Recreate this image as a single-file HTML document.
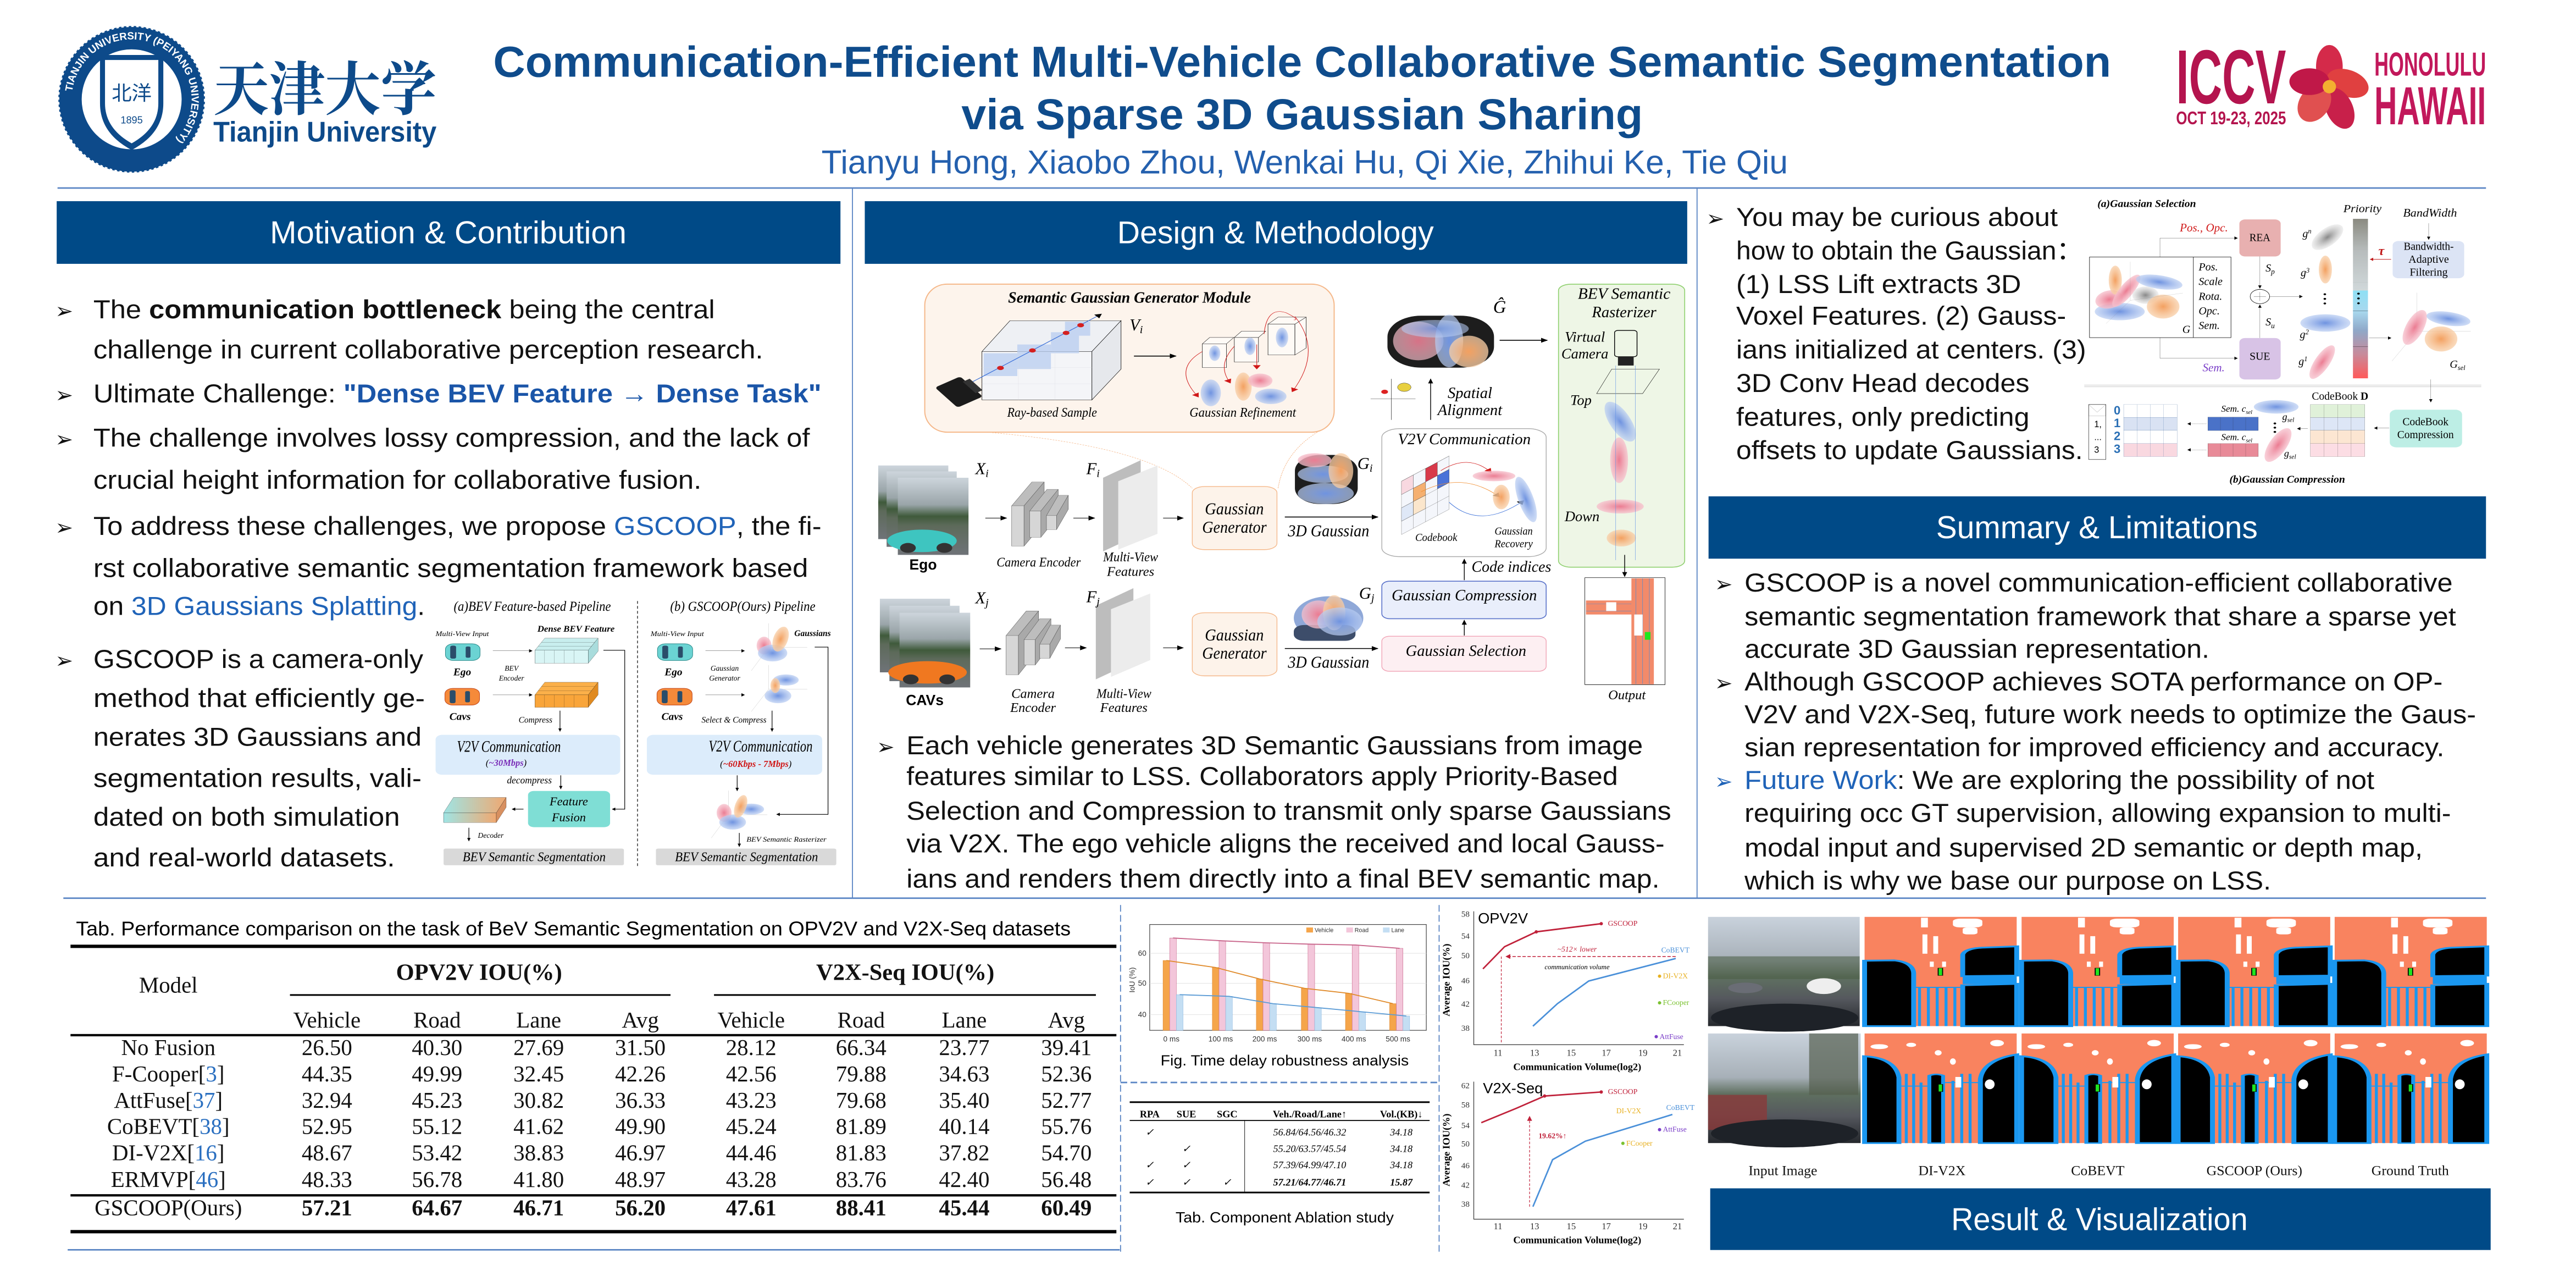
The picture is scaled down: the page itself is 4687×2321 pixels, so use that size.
<!DOCTYPE html>
<html><head><meta charset="utf-8">
<style>
html,body{margin:0;padding:0;background:#fff;}
svg{display:block;}
.s{font-family:"Liberation Sans",Arial,sans-serif;}
.r{font-family:"Liberation Serif","Times New Roman",serif;}
.i{font-family:"Liberation Serif",serif;font-style:italic;}
.bi{font-family:"Liberation Serif",serif;font-style:italic;font-weight:bold;}
.b{font-weight:bold;}
.bul{font-family:"Liberation Sans",Arial,sans-serif;font-size:15.5px;fill:#111;}
.ar{font-family:"DejaVu Sans",sans-serif;font-size:13px;fill:#111;}
.nsc{vector-effect:non-scaling-stroke;}
</style></head>
<body>
<svg xmlns="http://www.w3.org/2000/svg" width="4687" height="2321" viewBox="0 0 1546 765.6">
<defs>
 <linearGradient id="sky" x1="0" y1="0" x2="0" y2="1">
  <stop offset="0" stop-color="#cdd5dc"/><stop offset="0.35" stop-color="#9aa5a9"/><stop offset="0.5" stop-color="#3f5a3b"/><stop offset="0.62" stop-color="#5d6a5a"/><stop offset="1" stop-color="#6f7378"/>
 </linearGradient>
 <linearGradient id="sky2" x1="0" y1="0" x2="0" y2="1">
  <stop offset="0" stop-color="#c9d2dc"/><stop offset="0.4" stop-color="#a7b0b8"/><stop offset="0.55" stop-color="#5f7060"/><stop offset="0.75" stop-color="#55585e"/><stop offset="1" stop-color="#25282d"/>
 </linearGradient>
 <linearGradient id="prio" x1="0" y1="0" x2="0" y2="1">
  <stop offset="0" stop-color="#8a8a80"/><stop offset="0.2" stop-color="#b7bcbc"/><stop offset="0.45" stop-color="#d0d8da"/><stop offset="0.45" stop-color="#8fe0f5"/><stop offset="0.58" stop-color="#a8d8ee"/><stop offset="0.7" stop-color="#8fa8c8"/><stop offset="0.85" stop-color="#c88a9a"/><stop offset="1" stop-color="#ff5a5a"/>
 </linearGradient>
 <linearGradient id="fuse" x1="0" y1="0" x2="1" y2="0">
  <stop offset="0" stop-color="#9fe4e4"/><stop offset="1" stop-color="#f0a870"/>
 </linearGradient>
 <radialGradient id="gB"><stop offset="0" stop-color="#6f93e0"/><stop offset="1" stop-color="#b9cdf2" stop-opacity="0.7"/></radialGradient>
 <radialGradient id="gO"><stop offset="0" stop-color="#f3a060"/><stop offset="1" stop-color="#f8cfa8" stop-opacity="0.75"/></radialGradient>
 <radialGradient id="gP"><stop offset="0" stop-color="#eb7c92"/><stop offset="1" stop-color="#f6c0cc" stop-opacity="0.75"/></radialGradient>
 <radialGradient id="gG"><stop offset="0" stop-color="#888"/><stop offset="1" stop-color="#e6e6e6" stop-opacity="0.6"/></radialGradient>
 <marker id="ahr" markerWidth="3" markerHeight="3" refX="2.5" refY="1.5" orient="auto" markerUnits="userSpaceOnUse"><path d="M0,0 L3,1.5 L0,3 z" fill="#c0213a"/></marker>
 <marker id="a4h" markerWidth="12" markerHeight="14" refX="11" refY="7" orient="auto" markerUnits="userSpaceOnUse"><path d="M0,0 L12,7 L0,14 z" fill="#000"/></marker>
 <marker id="a4v" markerWidth="14" markerHeight="9" refX="13" refY="4.5" orient="auto" markerUnits="userSpaceOnUse"><path d="M0,0 L14,4.5 L0,9 z" fill="#000"/></marker>
 <marker id="a4r" markerWidth="12" markerHeight="14" refX="11" refY="7" orient="auto" markerUnits="userSpaceOnUse"><path d="M0,0 L12,7 L0,14 z" fill="#d01818"/></marker>
 <marker id="a8h" markerWidth="13" markerHeight="18" refX="12" refY="9" orient="auto" markerUnits="userSpaceOnUse"><path d="M0,0 L13,9 L0,18 z" fill="#000"/></marker>
 <marker id="a8v" markerWidth="18" markerHeight="13" refX="17" refY="6.5" orient="auto" markerUnits="userSpaceOnUse"><path d="M0,0 L18,6.5 L0,13 z" fill="#000"/></marker>
 <marker id="a7h" markerWidth="13" markerHeight="17" refX="12" refY="8.5" orient="auto" markerUnits="userSpaceOnUse"><path d="M0,0 L13,8.5 L0,17 z" fill="#000"/></marker>
 <marker id="a7v" markerWidth="17" markerHeight="13" refX="16" refY="6.5" orient="auto" markerUnits="userSpaceOnUse"><path d="M0,0 L17,6.5 L0,13 z" fill="#000"/></marker>
 <marker id="a7r" markerWidth="13" markerHeight="17" refX="12" refY="8.5" orient="auto" markerUnits="userSpaceOnUse"><path d="M0,0 L13,8.5 L0,17 z" fill="#c01818"/></marker>
 <path id="ring" d="M79,59.6 m-36,0 a36,36 0 1,1 72,0 a36,36 0 1,1 -72,0"/>
 <g id="seg1">
  <rect x="0" y="0" width="310" height="623" fill="#f9835f"/>
  <path d="M0,250 L60,248 Q98,258 100,320 L100,623 L0,623 Z" fill="#000" stroke="#1a97f0" stroke-width="10"/>
  <path d="M200,215 Q205,178 245,175 L310,168 L310,335 L200,338 Z" fill="#000" stroke="#1a97f0" stroke-width="10"/>
  <path d="M200,390 L310,382 L310,623 L200,623 Z" fill="#000" stroke="#1a97f0" stroke-width="10"/>
  <rect x="200" y="338" width="110" height="45" fill="#1a97f0"/>
  <g stroke="#1a97f0" stroke-width="6"><line x1="112" y1="400" x2="112" y2="623"/><line x1="130" y1="400" x2="130" y2="623"/><line x1="148" y1="400" x2="148" y2="623"/><line x1="166" y1="400" x2="166" y2="623"/><line x1="184" y1="400" x2="184" y2="623"/><line x1="100" y1="402" x2="200" y2="402"/></g>
  <g fill="#fff"><rect x="115" y="5" width="14" height="55"/><rect x="180" y="10" width="60" height="50" rx="15"/><rect x="200" y="60" width="30" height="40" rx="10"/><rect x="118" y="100" width="10" height="110"/><rect x="140" y="110" width="10" height="100"/><rect x="133" y="255" width="8" height="30"/><rect x="158" y="255" width="8" height="30"/></g>
  <rect x="150" y="292" width="9" height="42" fill="#1ee61e" stroke="#000" stroke-width="2"/>
 </g>
 <g id="seg2">
  <rect x="0" y="0" width="310" height="625" fill="#f9835f"/>
  <path d="M0,130 Q62,140 70,250 L70,625 L0,625 Z" fill="#000" stroke="#1a97f0" stroke-width="10"/>
  <path d="M310,120 Q242,150 236,260 L236,625 L310,625 Z" fill="#000" stroke="#1a97f0" stroke-width="10"/>
  <path d="M132,240 Q146,226 160,240 L160,625 L132,625 Z" fill="#000" stroke="#1a97f0" stroke-width="8"/>
  <g stroke="#1a97f0" stroke-width="6"><line x1="85" y1="230" x2="85" y2="625"/><line x1="100" y1="230" x2="100" y2="625"/><line x1="115" y1="280" x2="115" y2="625"/><line x1="180" y1="270" x2="180" y2="625"/><line x1="198" y1="230" x2="198" y2="625"/><line x1="215" y1="230" x2="215" y2="625"/><line x1="70" y1="300" x2="132" y2="300"/><line x1="160" y1="280" x2="236" y2="280"/></g>
  <g fill="#fff"><ellipse cx="30" cy="75" rx="18" ry="14"/><ellipse cx="95" cy="65" rx="10" ry="12"/><ellipse cx="150" cy="110" rx="7" ry="15"/><ellipse cx="270" cy="55" rx="14" ry="18"/><ellipse cx="180" cy="160" rx="6" ry="18"/><rect x="185" y="248" width="12" height="60"/><ellipse cx="255" cy="290" rx="10" ry="28"/></g>
  <rect x="150" y="290" width="9" height="42" fill="#1ee61e" stroke="#000" stroke-width="2"/>
 </g>
</defs>

<!-- ============ HEADER ============ -->
<circle cx="79" cy="59.6" r="44" fill="#0d4a8a"/>
<circle cx="79" cy="59.6" r="44" fill="none" stroke="#fff" stroke-width="1.2" stroke-dasharray="1.5 1.5"/>
<circle cx="79" cy="59.6" r="30" fill="#fff"/>
<path d="M60,33 L98,33 L98,62 Q98,80 79,90 Q60,80 60,62 Z" fill="#0d4a8a"/>
<path d="M63,36 L95,36 L95,62 Q95,77 79,86 Q63,77 63,62 Z" fill="#fff"/>
<text class="r" x="79" y="60" font-size="12" fill="#0d4a8a" text-anchor="middle">北洋</text>
<text class="s" x="79" y="74" font-size="6" fill="#0d4a8a" text-anchor="middle">1895</text>
<text class="s b" font-size="6.2" fill="#fff"><textPath href="#ring" startOffset="2%">TIANJIN UNIVERSITY (PEIYANG UNIVERSITY)</textPath></text>
<text x="128" y="66" font-family="'Liberation Serif','Noto Serif CJK SC',serif" font-weight="bold" font-size="35" fill="#0d4a8a" textLength="134" lengthAdjust="spacingAndGlyphs">天津大学</text>
<text class="s b" x="128" y="85" font-size="17" fill="#0d4a8a" textLength="134" lengthAdjust="spacingAndGlyphs">Tianjin University</text>

<text class="s b" x="781.5" y="46" font-size="26" fill="#0f4c8c" text-anchor="middle" textLength="971" lengthAdjust="spacingAndGlyphs">Communication-Efficient Multi-Vehicle Collaborative Semantic Segmentation</text>
<text class="s b" x="781.5" y="77.5" font-size="26" fill="#0f4c8c" text-anchor="middle" textLength="409" lengthAdjust="spacingAndGlyphs">via Sparse 3D Gaussian Sharing</text>
<text class="s" x="783" y="104" font-size="20" fill="#2460ae" text-anchor="middle" textLength="580" lengthAdjust="spacingAndGlyphs">Tianyu Hong, Xiaobo Zhou, Wenkai Hu, Qi Xie, Zhihui Ke, Tie Qiu</text>

<text class="s b" x="1306" y="62" font-size="46" fill="#b4144e" textLength="66" lengthAdjust="spacingAndGlyphs">ICCV</text>
<text class="s b" x="1306" y="74.5" font-size="11" fill="#b4144e" textLength="66" lengthAdjust="spacingAndGlyphs">OCT 19-23, 2025</text>
<g transform="translate(1398,52)">
 <ellipse cx="0" cy="-12" rx="8" ry="13" fill="#d42a4a"/>
 <ellipse cx="11" cy="-2" rx="13" ry="8" fill="#e04040" transform="rotate(20 11 -2)"/>
 <ellipse cx="6" cy="13" rx="8" ry="13" fill="#c8204a" transform="rotate(-25 6 13)"/>
 <ellipse cx="-9" cy="10" rx="9" ry="12" fill="#e05050" transform="rotate(35 -9 10)"/>
 <ellipse cx="-12" cy="-3" rx="12" ry="8" fill="#c01848"/>
 <circle cx="0" cy="0" r="4" fill="#f3b030"/>
</g>
<text class="s b" x="1425" y="45.4" font-size="20" fill="#c2185b" textLength="67" lengthAdjust="spacingAndGlyphs">HONOLULU</text>
<text class="s b" x="1425" y="74.5" font-size="32" fill="#c2185b" textLength="67" lengthAdjust="spacingAndGlyphs">HAWAII</text>

<line x1="34.5" y1="112.8" x2="1492" y2="112.8" stroke="#5a85c4" stroke-width="0.9"/>
<line x1="511.6" y1="113" x2="511.6" y2="539" stroke="#5a85c4" stroke-width="0.6"/>
<line x1="1018.5" y1="113" x2="1018.5" y2="539" stroke="#5a85c4" stroke-width="0.6"/>
<line x1="38" y1="538.9" x2="1492" y2="538.9" stroke="#5a85c4" stroke-width="0.9"/>

<rect x="34" y="120.7" width="470.4" height="37.6" fill="#004a87"/>
<text class="s" x="269" y="146" font-size="19" fill="#fff" text-anchor="middle" textLength="214" lengthAdjust="spacingAndGlyphs">Motivation &amp; Contribution</text>
<rect x="519" y="120.7" width="493.6" height="37.6" fill="#004a87"/>
<text class="s" x="765.5" y="146" font-size="19" fill="#fff" text-anchor="middle" textLength="190" lengthAdjust="spacingAndGlyphs">Design &amp; Methodology</text>
<rect x="1025.4" y="297.8" width="466.6" height="37.4" fill="#004a87"/>
<text class="s" x="1258.5" y="323" font-size="19" fill="#fff" text-anchor="middle" textLength="193" lengthAdjust="spacingAndGlyphs">Summary &amp; Limitations</text>
<rect x="1026.4" y="713" width="468.4" height="37" fill="#004a87"/>
<text class="s" x="1260" y="738" font-size="19" fill="#fff" text-anchor="middle" textLength="178" lengthAdjust="spacingAndGlyphs">Result &amp; Visualization</text>

<!-- ============ MOTIVATION TEXT ============ -->
<g>
<text class="ar" x="33" y="191">➢</text>
<text class="bul" x="56" y="191" textLength="373" lengthAdjust="spacingAndGlyphs">The <tspan font-weight="bold">communication bottleneck</tspan> being the central</text>
<text class="bul" x="56" y="215" textLength="402" lengthAdjust="spacingAndGlyphs">challenge in current collaborative perception research.</text>
<text class="ar" x="33" y="241.5">➢</text>
<text class="bul" x="56" y="241.5" textLength="437" lengthAdjust="spacingAndGlyphs">Ultimate Challenge: <tspan fill="#1a55a8" font-weight="bold">"Dense BEV Feature → Dense Task"</tspan></text>
<text class="ar" x="33" y="268">➢</text>
<text class="bul" x="56" y="268" textLength="430" lengthAdjust="spacingAndGlyphs">The challenge involves lossy compression, and the lack of</text>
<text class="bul" x="56" y="293.2" textLength="365" lengthAdjust="spacingAndGlyphs">crucial height information for collaborative fusion.</text>
<text class="ar" x="33" y="321">➢</text>
<text class="bul" x="56" y="321" textLength="437" lengthAdjust="spacingAndGlyphs">To address these challenges, we propose <tspan fill="#1f63b8">GSCOOP</tspan>, the fi-</text>
<text class="bul" x="56" y="346.2" textLength="429" lengthAdjust="spacingAndGlyphs">rst collaborative semantic segmentation framework based</text>
<text class="bul" x="56" y="368.9" textLength="199" lengthAdjust="spacingAndGlyphs">on <tspan fill="#1f63b8">3D Gaussians Splatting</tspan>.</text>
<text class="ar" x="33" y="400.8">➢</text>
<text class="bul" x="56" y="400.8" textLength="198" lengthAdjust="spacingAndGlyphs">GSCOOP is a camera-only</text>
<text class="bul" x="56" y="424.2" textLength="199" lengthAdjust="spacingAndGlyphs">method that efficiently ge-</text>
<text class="bul" x="56" y="447.5" textLength="197" lengthAdjust="spacingAndGlyphs">nerates 3D Gaussians and</text>
<text class="bul" x="56" y="472.2" textLength="197" lengthAdjust="spacingAndGlyphs">segmentation results, vali-</text>
<text class="bul" x="56" y="495.5" textLength="184" lengthAdjust="spacingAndGlyphs">dated on both simulation</text>
<text class="bul" x="56" y="519.8" textLength="181" lengthAdjust="spacingAndGlyphs">and real-world datasets.</text>
</g>

<!-- ============ PIPELINE FIGURE (zoom8 coords) ============ -->
<g transform="translate(260.6,359.5) scale(0.1599,0.1115)">
 <text class="i" transform="translate(368,62) scale(1,1.434)" font-size="52" text-anchor="middle" textLength="590" lengthAdjust="spacingAndGlyphs">(a)BEV Feature-based Pipeline</text>
 <text class="i" transform="translate(1158,62) scale(1,1.434)" font-size="52" text-anchor="middle" textLength="545" lengthAdjust="spacingAndGlyphs">(b) GSCOOP(Ours) Pipeline</text>
 <line x1="763" y1="10" x2="763" y2="1445" stroke="#000" stroke-width="1.2" stroke-dasharray="5 4" class="nsc"/>
 <text class="i" transform="translate(105,198) scale(1,1.434)" font-size="26" text-anchor="middle" textLength="200" lengthAdjust="spacingAndGlyphs">Multi-View Input</text>
 <text class="bi" transform="translate(532,175) scale(1,1.434)" font-size="32" text-anchor="middle" textLength="290" lengthAdjust="spacingAndGlyphs">Dense BEV Feature</text>
 <rect x="42" y="240" width="130" height="90" rx="30" fill="#6bd3d3" stroke="#2a8a8a" stroke-width="1" class="nsc"/><rect x="60" y="250" width="22" height="70" rx="8" fill="#2a4d6a"/><rect x="118" y="255" width="18" height="60" rx="6" fill="#2a4d6a"/>
 <text class="bi" transform="translate(105,410) scale(1,1.434)" font-size="40" text-anchor="middle">Ego</text>
 <rect x="40" y="480" width="130" height="90" rx="30" fill="#f58a3a" stroke="#c2461a" stroke-width="1" class="nsc"/><rect x="58" y="490" width="22" height="70" rx="8" fill="#2a4d6a"/><rect x="116" y="495" width="18" height="60" rx="6" fill="#2a4d6a"/>
 <text class="bi" transform="translate(97,650) scale(1,1.434)" font-size="40" text-anchor="middle">Cavs</text>
 <g stroke="#000" stroke-width="1.2" class="nsc" fill="none"><line x1="220" y1="278" x2="368" y2="278" marker-end="url(#a8h)"/><line x1="220" y1="515" x2="368" y2="515" marker-end="url(#a8h)"/></g>
 <text class="i" transform="translate(290,385) scale(1,1.434)" font-size="28" text-anchor="middle">BEV</text>
 <text class="i" transform="translate(290,438) scale(1,1.434)" font-size="28" text-anchor="middle">Encoder</text>
 <g stroke="#000" stroke-width="0.7" class="nsc">
  <polygon points="378,275 415,210 615,210 578,275" fill="#c8eeee"/><rect x="378" y="275" width="200" height="70" fill="#d9f5f5"/><polygon points="578,275 615,210 615,280 578,345" fill="#a9dcdc"/>
  <polygon points="378,515 415,447 615,447 578,515" fill="#fbb04a"/><rect x="378" y="515" width="200" height="67" fill="#f9a53a"/><polygon points="578,515 615,447 615,515 578,582" fill="#e08a20"/>
  <polygon points="520,838 545,792 682,792 657,838" fill="#fbb04a"/><rect x="520" y="838" width="137" height="42" fill="#f9a53a"/><polygon points="657,838 682,792 682,835 657,880" fill="#e08a20"/>
  <polygon points="35,1150 72,1067 270,1067 233,1150" fill="url(#fuse)"/><rect x="35" y="1150" width="198" height="52" fill="url(#fuse)"/><polygon points="233,1150 270,1067 270,1120 233,1202" fill="#d89060"/>
 </g>
 <g stroke="#000" stroke-width="0.5" class="nsc">
  <line x1="414" y1="275" x2="414" y2="345"/><line x1="451" y1="275" x2="451" y2="345"/><line x1="488" y1="275" x2="488" y2="345"/><line x1="525" y1="275" x2="525" y2="345"/>
  <line x1="414" y1="515" x2="414" y2="582"/><line x1="451" y1="515" x2="451" y2="582"/><line x1="488" y1="515" x2="488" y2="582"/><line x1="525" y1="515" x2="525" y2="582"/>
  <line x1="390" y1="253" x2="590" y2="253"/><line x1="402" y1="232" x2="602" y2="232"/><line x1="390" y1="493" x2="590" y2="493"/><line x1="402" y1="470" x2="602" y2="470"/>
 </g>
 <polyline points="635,275 715,275 715,1130 668,1130" fill="none" stroke="#000" stroke-width="1.2" class="nsc" marker-end="url(#a8h)"/>
 <text class="i" transform="translate(380,665) scale(1,1.434)" font-size="32" text-anchor="middle">Compress</text>
 <line x1="472" y1="600" x2="472" y2="712" stroke="#000" stroke-width="1.2" class="nsc" marker-end="url(#a8v)"/>
 <rect x="5" y="730" width="693" height="215" rx="25" fill="#dcecfb"/>
 <text class="i" transform="translate(280,822) scale(1,1.434)" font-size="60" text-anchor="middle" textLength="390" lengthAdjust="spacingAndGlyphs">V2V Communication</text>
 <text class="i" transform="translate(270,897) scale(1,1.434)" font-size="34" text-anchor="middle">(<tspan fill="#7a2eb8" font-weight="bold">~30Mbps</tspan>)</text>
 <text class="i" transform="translate(357,992) scale(1,1.434)" font-size="36" text-anchor="middle">decompress</text>
 <line x1="475" y1="948" x2="475" y2="1022" stroke="#000" stroke-width="1.2" class="nsc" marker-end="url(#a8v)"/>
 <rect x="352" y="1032" width="308" height="195" rx="22" fill="#7fded5"/>
 <text class="i" transform="translate(505,1110) scale(1,1.434)" font-size="46" text-anchor="middle">Feature</text>
 <text class="i" transform="translate(505,1195) scale(1,1.434)" font-size="46" text-anchor="middle">Fusion</text>
 <line x1="335" y1="1130" x2="292" y2="1130" stroke="#000" stroke-width="1.2" class="nsc" marker-end="url(#a8h)"/>
 <line x1="130" y1="1230" x2="130" y2="1302" stroke="#000" stroke-width="1.2" class="nsc" marker-end="url(#a8v)"/>
 <text class="i" transform="translate(212,1285) scale(1,1.434)" font-size="28" text-anchor="middle">Decoder</text>
 <rect x="35" y="1342" width="677" height="90" rx="8" fill="#d9d9d9"/>
 <text class="i" transform="translate(375,1410) scale(1,1.434)" font-size="50" text-anchor="middle" textLength="537" lengthAdjust="spacingAndGlyphs">BEV Semantic Segmentation</text>
 <text class="i" transform="translate(912,198) scale(1,1.434)" font-size="26" text-anchor="middle" textLength="200" lengthAdjust="spacingAndGlyphs">Multi-View Input</text>
 <rect x="838" y="240" width="132" height="90" rx="30" fill="#6bd3d3" stroke="#2a8a8a" stroke-width="1" class="nsc"/><rect x="856" y="250" width="22" height="70" rx="8" fill="#2a4d6a"/><rect x="915" y="255" width="18" height="60" rx="6" fill="#2a4d6a"/>
 <text class="bi" transform="translate(898,410) scale(1,1.434)" font-size="40" text-anchor="middle">Ego</text>
 <rect x="836" y="480" width="132" height="90" rx="30" fill="#f58a3a" stroke="#c2461a" stroke-width="1" class="nsc"/><rect x="854" y="490" width="22" height="70" rx="8" fill="#2a4d6a"/><rect x="913" y="495" width="18" height="60" rx="6" fill="#2a4d6a"/>
 <text class="bi" transform="translate(893,650) scale(1,1.434)" font-size="40" text-anchor="middle">Cavs</text>
 <g stroke="#000" stroke-width="1.2" class="nsc"><line x1="1018" y1="278" x2="1165" y2="278" marker-end="url(#a8h)"/><line x1="1018" y1="515" x2="1165" y2="515" marker-end="url(#a8h)"/></g>
 <text class="i" transform="translate(1090,385) scale(1,1.434)" font-size="28" text-anchor="middle">Gaussian</text>
 <text class="i" transform="translate(1090,438) scale(1,1.434)" font-size="28" text-anchor="middle">Generator</text>
 <text class="bi" transform="translate(1420,198) scale(1,1.434)" font-size="32" text-anchor="middle">Gaussians</text>
 <g stroke="#888" stroke-width="0.6" class="nsc" fill="none">
  <line x1="1255" y1="260" x2="1255" y2="130"/><line x1="1255" y1="260" x2="1400" y2="260"/><line x1="1255" y1="260" x2="1190" y2="385"/>
  <line x1="1255" y1="485" x2="1255" y2="355"/><line x1="1255" y1="485" x2="1400" y2="485"/><line x1="1255" y1="485" x2="1190" y2="605"/>
  <line x1="888" y1="840" x2="888" y2="740"/><line x1="888" y1="840" x2="1000" y2="840"/><line x1="888" y1="840" x2="838" y2="930"/>
  <line x1="1105" y1="1160" x2="1105" y2="1030"/><line x1="1105" y1="1160" x2="1250" y2="1160"/><line x1="1105" y1="1160" x2="1040" y2="1285"/>
 </g>
 <ellipse cx="1238" cy="250" rx="28" ry="48" fill="url(#gP)"/><ellipse cx="1270" cy="290" rx="55" ry="45" fill="url(#gB)"/><ellipse cx="1300" cy="215" rx="28" ry="68" fill="url(#gO)" transform="rotate(12 1300 215)"/>
 <ellipse cx="1320" cy="435" rx="48" ry="30" fill="url(#gB)"/><ellipse cx="1290" cy="520" rx="50" ry="40" fill="url(#gB)"/><ellipse cx="1280" cy="465" rx="18" ry="40" fill="url(#gO)"/>
 <ellipse cx="900" cy="838" rx="50" ry="28" fill="url(#gB)"/>
 <ellipse cx="1088" cy="1150" rx="28" ry="48" fill="url(#gP)"/><ellipse cx="1190" cy="1130" rx="48" ry="30" fill="url(#gB)"/><ellipse cx="1120" cy="1200" rx="50" ry="40" fill="url(#gB)"/><ellipse cx="1150" cy="1115" rx="22" ry="62" fill="url(#gO)" transform="rotate(12 1150 1115)"/>
 <polyline points="1428,258 1478,258 1478,1158 1285,1158" fill="none" stroke="#000" stroke-width="1.2" class="nsc" marker-end="url(#a8h)"/>
 <text class="i" transform="translate(1125,665) scale(1,1.434)" font-size="32" text-anchor="middle">Select &amp; Compress</text>
 <line x1="1268" y1="600" x2="1268" y2="712" stroke="#000" stroke-width="1.2" class="nsc" marker-end="url(#a8v)"/>
 <rect x="798" y="730" width="658" height="215" rx="25" fill="#dcecfb"/>
 <text class="i" transform="translate(1225,820) scale(1,1.434)" font-size="60" text-anchor="middle" textLength="390" lengthAdjust="spacingAndGlyphs">V2V Communication</text>
 <text class="i" transform="translate(1207,902) scale(1,1.434)" font-size="34" text-anchor="middle">(<tspan fill="#d01818" font-weight="bold">~60Kbps - 7Mbps</tspan>)</text>
 <line x1="1137" y1="948" x2="1137" y2="1032" stroke="#000" stroke-width="1.2" class="nsc" marker-end="url(#a8v)"/>
 <line x1="1145" y1="1258" x2="1145" y2="1332" stroke="#000" stroke-width="1.2" class="nsc" marker-end="url(#a8v)"/>
 <text class="i" transform="translate(1322,1305) scale(1,1.434)" font-size="26" text-anchor="middle" textLength="300" lengthAdjust="spacingAndGlyphs">BEV Semantic Rasterizer</text>
 <rect x="832" y="1342" width="677" height="90" rx="8" fill="#d9d9d9"/>
 <text class="i" transform="translate(1172,1410) scale(1,1.434)" font-size="50" text-anchor="middle" textLength="537" lengthAdjust="spacingAndGlyphs">BEV Semantic Segmentation</text>
</g>

<!-- ============ DESIGN DIAGRAM (zoom4 coords) ============ -->
<g transform="translate(514.6,158.3) scale(0.3366,0.2104)">
 <rect x="120" y="58" width="730" height="422" rx="40" ry="60" fill="#fdf4ec" stroke="#f5b88a" stroke-width="2" class="nsc"/>
 <text class="bi" transform="translate(485,111) scale(1,1.6)" font-size="28" text-anchor="middle" textLength="433" lengthAdjust="spacingAndGlyphs">Semantic Gaussian Generator Module</text>
 <g stroke="#000" stroke-width="0.8" class="nsc">
  <polygon points="222,250 272,162 470,162 418,250" fill="#eef0f4"/>
  <polygon points="418,250 470,162 470,300 418,388" fill="#e6e8ec"/>
  <rect x="222" y="250" width="196" height="138" fill="#f4f5f8"/>
 </g>
 <g fill="#b8cdf0" opacity="0.75"><rect x="225" y="255" width="60" height="65"/><rect x="285" y="230" width="60" height="70"/><rect x="345" y="195" width="50" height="60"/><rect x="370" y="165" width="45" height="40"/></g>
 <g stroke="#d8dbe2" stroke-width="0.4" class="nsc"><line x1="287" y1="250" x2="287" y2="388"/><line x1="352" y1="250" x2="352" y2="388"/><line x1="222" y1="296" x2="418" y2="296"/><line x1="222" y1="342" x2="418" y2="342"/></g>
 <line x1="195" y1="345" x2="435" y2="143" stroke="#3a6fd8" stroke-width="1.2" class="nsc" marker-end="url(#a4h)"/>
 <g fill="#d42020"><circle cx="255" cy="297" r="6"/><circle cx="312" cy="247" r="6"/><circle cx="372" cy="197" r="6"/><circle cx="398" cy="175" r="6"/></g>
 <g transform="rotate(-35 180 360)"><rect x="150" y="330" width="55" height="70" rx="6" fill="#1b1b1b"/><rect x="200" y="345" width="15" height="40" fill="#333"/></g>
 <text class="i" transform="translate(497,190) scale(1,1.6)" font-size="30" text-anchor="middle">V<tspan font-size="20" dy="5">i</tspan></text>
 <line x1="493" y1="263" x2="568" y2="263" stroke="#000" stroke-width="1.6" class="nsc" marker-end="url(#a4h)"/>
 <g stroke="#000" stroke-width="0.7" fill="#fff" fill-opacity="0.5" class="nsc">
  <rect x="615" y="228" width="43" height="68"/><polygon points="615,228 628,210 671,210 658,228"/>
  <rect x="672" y="210" width="43" height="70"/><polygon points="672,210 685,192 728,192 715,210"/>
  <rect x="732" y="172" width="48" height="88"/><polygon points="732,172 750,152 800,152 780,172"/><polygon points="780,172 800,152 800,240 780,260"/>
 </g>
 <g><ellipse cx="637" cy="255" rx="10" ry="22" fill="url(#gB)"/><ellipse cx="700" cy="235" rx="10" ry="25" fill="url(#gB)"/><ellipse cx="757" cy="210" rx="11" ry="28" fill="url(#gB)"/></g>
 <g fill="none" stroke="#d01818" stroke-width="1" class="nsc">
  <path d="M615,250 Q560,300 608,380" marker-end="url(#a4r)"/><path d="M672,235 Q640,290 665,340" marker-end="url(#a4r)"/><path d="M725,200 Q730,120 765,140 Q790,160 778,160"/><path d="M712,230 L712,300" marker-end="url(#a4r)"/><path d="M780,150 Q830,250 775,365" marker-end="url(#a4r)"/>
 </g>
 <ellipse cx="630" cy="368" rx="18" ry="38" fill="url(#gB)"/><ellipse cx="688" cy="350" rx="15" ry="40" fill="url(#gO)"/><ellipse cx="718" cy="333" rx="22" ry="20" fill="url(#gP)"/><ellipse cx="737" cy="378" rx="28" ry="22" fill="url(#gB)"/>
 <text class="i" transform="translate(347,436) scale(1,1.6)" font-size="24" text-anchor="middle" textLength="160" lengthAdjust="spacingAndGlyphs">Ray-based Sample</text>
 <text class="i" transform="translate(687,436) scale(1,1.6)" font-size="24" text-anchor="middle" textLength="190" lengthAdjust="spacingAndGlyphs">Gaussian Refinement</text>
 <g fill="none" stroke="#f5b88a" stroke-width="1.2" stroke-dasharray="3 2" class="nsc"><path d="M230,480 Q520,520 597,640"/><path d="M820,480 Q760,540 750,640"/></g>
 <rect x="945" y="148" width="190" height="148" rx="60" fill="#1d1d1d"/>
 <ellipse cx="1000" cy="220" rx="45" ry="55" fill="url(#gP)" opacity="0.9"/><ellipse cx="1055" cy="220" rx="25" ry="75" fill="url(#gB)"/><ellipse cx="1090" cy="250" rx="35" ry="45" fill="url(#gO)"/><ellipse cx="1030" cy="185" rx="60" ry="25" fill="url(#gB)" opacity="0.8"/>
 <text class="i" transform="translate(1145,140) scale(1,1.6)" font-size="32" text-anchor="middle">Ĝ</text>
 <line x1="1145" y1="218" x2="1230" y2="218" stroke="#000" stroke-width="1.6" class="nsc" marker-end="url(#a4h)"/>
 <g stroke="#000" stroke-width="0.6" class="nsc"><line x1="915" y1="385" x2="995" y2="385"/><line x1="952" y1="328" x2="952" y2="445"/></g>
 <circle cx="975" cy="352" r="12" fill="#e8d040" stroke="#222" stroke-width="0.5" class="nsc"/><circle cx="940" cy="365" r="6" fill="#d22"/>
 <line x1="1022" y1="445" x2="1022" y2="328" stroke="#000" stroke-width="1.4" class="nsc" marker-end="url(#a4v)"/>
 <text class="i" transform="translate(1092,383) scale(1,1.6)" font-size="28" text-anchor="middle">Spatial</text>
 <text class="i" transform="translate(1092,431) scale(1,1.6)" font-size="28" text-anchor="middle">Alignment</text>
 <rect x="1250" y="58" width="225" height="807" rx="22" ry="18" fill="#eef6e6" stroke="#8fd06f" stroke-width="1.6" class="nsc"/>
 <text class="i" transform="translate(1367,100) scale(1,1.6)" font-size="28" text-anchor="middle" textLength="165" lengthAdjust="spacingAndGlyphs">BEV Semantic</text>
 <text class="i" transform="translate(1367,152) scale(1,1.6)" font-size="28" text-anchor="middle">Rasterizer</text>
 <text class="i" transform="translate(1297,222) scale(1,1.6)" font-size="26" text-anchor="middle">Virtual</text>
 <text class="i" transform="translate(1297,270) scale(1,1.6)" font-size="26" text-anchor="middle">Camera</text>
 <rect x="1350" y="190" width="40" height="75" rx="6" fill="none" stroke="#000" stroke-width="1.4" class="nsc"/><rect x="1356" y="265" width="28" height="25" fill="#222"/>
 <polygon points="1345,300 1430,300 1400,370 1318,370" fill="none" stroke="#000" stroke-width="0.6" class="nsc"/>
 <text class="i" transform="translate(1290,402) scale(1,1.6)" font-size="26" text-anchor="middle">Top</text>
 <text class="i" transform="translate(1292,734) scale(1,1.6)" font-size="26" text-anchor="middle">Down</text>
 <ellipse cx="1360" cy="450" rx="20" ry="60" fill="url(#gB)" transform="rotate(-20 1360 450)"/><ellipse cx="1358" cy="560" rx="16" ry="65" fill="url(#gP)"/><ellipse cx="1360" cy="692" rx="42" ry="20" fill="url(#gP)"/><ellipse cx="1362" cy="782" rx="26" ry="24" fill="url(#gO)"/>
 <g stroke="#5b8ee6" stroke-width="0.6" class="nsc"><line x1="1352" y1="290" x2="1352" y2="845"/><line x1="1387" y1="290" x2="1387" y2="845"/></g>
 <line x1="1368" y1="830" x2="1368" y2="892" stroke="#000" stroke-width="1.4" class="nsc" marker-end="url(#a4v)"/>
 <rect x="1297" y="895" width="143" height="305" fill="#fff" stroke="#000" stroke-width="0.8" class="nsc"/>
 <rect x="1380" y="897" width="40" height="302" fill="#f28a6a"/><rect x="1299" y="960" width="95" height="40" fill="#f28a6a"/>
 <g stroke="#2a8ae8" stroke-width="0.6" class="nsc"><line x1="1388" y1="897" x2="1388" y2="1198"/><line x1="1400" y1="897" x2="1400" y2="1198"/><line x1="1412" y1="897" x2="1412" y2="1198"/><line x1="1299" y1="970" x2="1380" y2="970"/><line x1="1299" y1="990" x2="1380" y2="990"/></g>
 <g fill="#fff"><rect x="1335" y="965" width="18" height="25"/><rect x="1385" y="1000" width="15" height="60"/></g><rect x="1404" y="1050" width="10" height="22" fill="#1ee61e"/>
 <text class="i" transform="translate(1372,1242) scale(1,1.6)" font-size="24" text-anchor="middle">Output</text>
 <rect x="37" y="575" width="125" height="210" fill="url(#sky)"/><rect x="52" y="592" width="125" height="215" fill="url(#sky)"/><rect x="72" y="610" width="126" height="220" fill="url(#sky)"/>
 <ellipse cx="115" cy="790" rx="62" ry="32" fill="#3ec5c0"/><circle cx="90" cy="810" r="14" fill="#333"/><circle cx="155" cy="810" r="14" fill="#333"/>
 <text class="s b" transform="translate(117,872) scale(1,1.6)" font-size="26" text-anchor="middle">Ego</text>
 <text class="i" transform="translate(222,600) scale(1,1.6)" font-size="30" text-anchor="middle">X<tspan font-size="20" dy="5">i</tspan></text>
 <text class="i" transform="translate(420,600) scale(1,1.6)" font-size="30" text-anchor="middle">F<tspan font-size="20" dy="5">i</tspan></text>
 <g stroke="#000" stroke-width="1.6" class="nsc"><line x1="228" y1="725" x2="266" y2="725" marker-end="url(#a4h)"/><line x1="385" y1="725" x2="423" y2="725" marker-end="url(#a4h)"/><line x1="545" y1="725" x2="581" y2="725" marker-end="url(#a4h)"/>
 <line x1="218" y1="1098" x2="256" y2="1098" marker-end="url(#a4h)"/><line x1="370" y1="1095" x2="408" y2="1095" marker-end="url(#a4h)"/><line x1="545" y1="1095" x2="581" y2="1095" marker-end="url(#a4h)"/></g>
 <g stroke="#555" stroke-width="0.6" class="nsc">
  <polygon points="275,690 297,690 333,622 311,622" fill="#bdbdbd"/><rect x="275" y="690" width="22" height="115" fill="#d6d6d6"/><polygon points="297,690 333,622 333,737 297,805" fill="#a9a9a9"/>
  <polygon points="307,705 327,705 358,643 338,643" fill="#bdbdbd"/><rect x="307" y="705" width="20" height="75" fill="#d6d6d6"/><polygon points="327,705 358,643 358,718 327,780" fill="#a9a9a9"/>
  <polygon points="337,718 355,718 376,660 358,660" fill="#bdbdbd"/><rect x="337" y="718" width="18" height="40" fill="#d6d6d6"/><polygon points="355,718 376,660 376,700 355,758" fill="#a9a9a9"/>
  <polygon points="265,1060 287,1060 323,990 301,990" fill="#bdbdbd"/><rect x="265" y="1060" width="22" height="112" fill="#d6d6d6"/><polygon points="287,1060 323,990 323,1100 287,1172" fill="#a9a9a9"/>
  <polygon points="297,1072 317,1072 345,1012 325,1012" fill="#bdbdbd"/><rect x="297" y="1072" width="20" height="72" fill="#d6d6d6"/><polygon points="317,1072 345,1012 345,1085 317,1144" fill="#a9a9a9"/>
  <polygon points="325,1085 343,1085 362,1030 344,1030" fill="#bdbdbd"/><rect x="325" y="1085" width="18" height="40" fill="#d6d6d6"/><polygon points="343,1085 362,1030 362,1070 343,1125" fill="#a9a9a9"/>
 </g>
 <polygon points="438,610 505,560 505,770 438,820" fill="#bdbdbd"/><polygon points="465,620 535,575 535,770 465,815" fill="#ececec"/>
 <polygon points="425,975 492,925 492,1135 425,1185" fill="#bdbdbd"/><polygon points="452,985 522,940 522,1130 452,1178" fill="#ececec"/>
 <text class="i" transform="translate(323,863) scale(1,1.6)" font-size="24" text-anchor="middle" textLength="150" lengthAdjust="spacingAndGlyphs">Camera Encoder</text>
 <text class="i" transform="translate(487,848) scale(1,1.6)" font-size="24" text-anchor="middle" textLength="98" lengthAdjust="spacingAndGlyphs">Multi-View</text>
 <text class="i" transform="translate(487,890) scale(1,1.6)" font-size="24" text-anchor="middle">Features</text>
 <rect x="597" y="635" width="151" height="180" rx="22" ry="18" fill="#fdf3ea" stroke="#f5b88a" stroke-width="1.4" class="nsc"/>
 <text class="i" transform="translate(672,714) scale(1,1.6)" font-size="30" text-anchor="middle" textLength="105" lengthAdjust="spacingAndGlyphs">Gaussian</text>
 <text class="i" transform="translate(672,767) scale(1,1.6)" font-size="30" text-anchor="middle" textLength="115" lengthAdjust="spacingAndGlyphs">Generator</text>
 <rect x="780" y="545" width="112" height="140" rx="45" fill="#1d1d1d"/><ellipse cx="835" cy="655" rx="50" ry="30" fill="url(#gB)"/><ellipse cx="830" cy="600" rx="45" ry="25" fill="url(#gB)"/><ellipse cx="862" cy="590" rx="22" ry="50" fill="url(#gO)"/><ellipse cx="815" cy="560" rx="30" ry="20" fill="url(#gP)"/>
 <text class="i" transform="translate(905,585) scale(1,1.6)" font-size="30" text-anchor="middle">G<tspan font-size="20" dy="5">i</tspan></text>
 <line x1="762" y1="722" x2="928" y2="722" stroke="#000" stroke-width="1.6" class="nsc" marker-end="url(#a4h)"/>
 <text class="i" transform="translate(840,777) scale(1,1.6)" font-size="30" text-anchor="middle" textLength="145" lengthAdjust="spacingAndGlyphs">3D Gaussian</text>
 <rect x="935" y="470" width="293" height="365" rx="32" ry="25" fill="#fff" stroke="#aaa" stroke-width="1.4" class="nsc"/>
 <text class="i" transform="translate(1082,514) scale(1,1.6)" font-size="28" text-anchor="middle" textLength="237" lengthAdjust="spacingAndGlyphs">V2V Communication</text>
 <g stroke="#444" stroke-width="0.4" class="nsc">
  <polygon points="970,620 1055,548 1055,700 970,772" fill="#f4f6fb"/>
  <polygon points="1013,584 1034,566 1034,604 1013,622" fill="#d83a4a"/><polygon points="991,640 1013,622 1013,660 991,678" fill="#f5b070"/><polygon points="1034,604 1055,586 1055,624 1034,642" fill="#4a72d8"/><polygon points="970,620 991,602 991,640 970,658" fill="#f8d8e0"/><polygon points="991,678 1013,660 1013,698 991,716" fill="#fbe6cc"/><polygon points="970,696 991,678 991,716 970,734" fill="#dfe8f7"/>
  <line x1="991" y1="602" x2="991" y2="754"/><line x1="1013" y1="584" x2="1013" y2="736"/><line x1="1034" y1="566" x2="1034" y2="718"/>
  <line x1="970" y1="658" x2="1055" y2="586"/><line x1="970" y1="696" x2="1055" y2="624"/><line x1="970" y1="734" x2="1055" y2="662"/><line x1="970" y1="620" x2="1055" y2="548"/>
 </g>
 <g fill="none" stroke-width="1.2" class="nsc"><path d="M1040,590 Q1090,540 1130,595" stroke="#d01818" marker-end="url(#a4r)"/><path d="M1005,650 Q1080,590 1145,665" stroke="#f08a2a" marker-end="url(#a4h)"/><path d="M1055,680 Q1110,760 1188,675" stroke="#3a6fd8" marker-end="url(#a4h)"/></g>
 <ellipse cx="1135" cy="605" rx="38" ry="15" fill="url(#gP)"/><ellipse cx="1148" cy="665" rx="15" ry="35" fill="url(#gO)"/><ellipse cx="1192" cy="672" rx="14" ry="66" fill="url(#gB)" transform="rotate(-12 1192 672)"/>
 <text class="i" transform="translate(1032,790) scale(1,1.6)" font-size="20" text-anchor="middle" textLength="75" lengthAdjust="spacingAndGlyphs">Codebook</text>
 <text class="i" transform="translate(1170,772) scale(1,1.6)" font-size="20" text-anchor="middle" textLength="68" lengthAdjust="spacingAndGlyphs">Gaussian</text>
 <text class="i" transform="translate(1170,808) scale(1,1.6)" font-size="20" text-anchor="middle" textLength="68" lengthAdjust="spacingAndGlyphs">Recovery</text>
 <line x1="1082" y1="902" x2="1082" y2="842" stroke="#000" stroke-width="1.4" class="nsc" marker-end="url(#a4v)"/>
 <text class="i" transform="translate(1166,878) scale(1,1.6)" font-size="28" text-anchor="middle" textLength="142" lengthAdjust="spacingAndGlyphs">Code indices</text>
 <rect x="935" y="905" width="293" height="107" rx="14" fill="#e9eefb" stroke="#5a72c9" stroke-width="1.6" class="nsc"/>
 <text class="i" transform="translate(1082,960) scale(1,1.6)" font-size="28" text-anchor="middle" textLength="259" lengthAdjust="spacingAndGlyphs">Gaussian Compression</text>
 <line x1="1082" y1="1060" x2="1082" y2="1016" stroke="#000" stroke-width="1.4" class="nsc" marker-end="url(#a4v)"/>
 <rect x="935" y="1062" width="293" height="100" rx="14" fill="#fdeff2" stroke="#f1a4b6" stroke-width="1.4" class="nsc"/>
 <text class="i" transform="translate(1085,1118) scale(1,1.6)" font-size="28" text-anchor="middle" textLength="215" lengthAdjust="spacingAndGlyphs">Gaussian Selection</text>
 <rect x="40" y="955" width="125" height="210" fill="url(#sky)"/><rect x="57" y="975" width="125" height="215" fill="url(#sky)"/><rect x="75" y="995" width="126" height="213" fill="url(#sky)"/>
 <ellipse cx="125" cy="1165" rx="70" ry="32" fill="#f07820"/><circle cx="95" cy="1185" r="14" fill="#333"/><circle cx="160" cy="1185" r="14" fill="#333"/>
 <text class="s b" transform="translate(120,1258) scale(1,1.6)" font-size="26" text-anchor="middle">CAVs</text>
 <text class="i" transform="translate(222,968) scale(1,1.6)" font-size="30" text-anchor="middle">X<tspan font-size="20" dy="5">j</tspan></text>
 <text class="i" transform="translate(420,965) scale(1,1.6)" font-size="30" text-anchor="middle">F<tspan font-size="20" dy="5">j</tspan></text>
 <text class="i" transform="translate(313,1238) scale(1,1.6)" font-size="24" text-anchor="middle">Camera</text>
 <text class="i" transform="translate(313,1278) scale(1,1.6)" font-size="24" text-anchor="middle">Encoder</text>
 <text class="i" transform="translate(475,1238) scale(1,1.6)" font-size="24" text-anchor="middle" textLength="98" lengthAdjust="spacingAndGlyphs">Multi-View</text>
 <text class="i" transform="translate(475,1278) scale(1,1.6)" font-size="24" text-anchor="middle">Features</text>
 <rect x="597" y="995" width="151" height="180" rx="22" ry="18" fill="#fdf3ea" stroke="#f5b88a" stroke-width="1.4" class="nsc"/>
 <text class="i" transform="translate(672,1074) scale(1,1.6)" font-size="30" text-anchor="middle" textLength="105" lengthAdjust="spacingAndGlyphs">Gaussian</text>
 <text class="i" transform="translate(672,1126) scale(1,1.6)" font-size="30" text-anchor="middle" textLength="115" lengthAdjust="spacingAndGlyphs">Generator</text>
 <ellipse cx="840" cy="1010" rx="62" ry="62" fill="#8fa8d8"/><rect x="778" y="1030" width="110" height="45" rx="18" fill="#3d4d6a"/><ellipse cx="822" cy="1000" rx="30" ry="40" fill="url(#gP)"/><ellipse cx="850" cy="995" rx="20" ry="50" fill="url(#gO)"/><ellipse cx="860" cy="1020" rx="40" ry="40" fill="url(#gB)"/>
 <text class="i" transform="translate(908,955) scale(1,1.6)" font-size="30" text-anchor="middle">G<tspan font-size="20" dy="5">j</tspan></text>
 <line x1="762" y1="1097" x2="928" y2="1097" stroke="#000" stroke-width="1.6" class="nsc" marker-end="url(#a4h)"/>
 <text class="i" transform="translate(840,1152) scale(1,1.6)" font-size="30" text-anchor="middle" textLength="145" lengthAdjust="spacingAndGlyphs">3D Gaussian</text>
</g>

<text class="ar" x="526" y="452.5">➢</text>
<text class="bul" x="544" y="452.5" textLength="442" lengthAdjust="spacingAndGlyphs">Each vehicle generates 3D Semantic Gaussians from image</text>
<text class="bul" x="544" y="471" textLength="427" lengthAdjust="spacingAndGlyphs">features similar to LSS. Collaborators apply Priority-Based</text>
<text class="bul" x="544" y="491.9" textLength="459" lengthAdjust="spacingAndGlyphs">Selection and Compression to transmit only sparse Gaussians</text>
<text class="bul" x="544" y="511.5" textLength="455" lengthAdjust="spacingAndGlyphs">via V2X. The ego vehicle aligns the received and local Gauss-</text>
<text class="bul" x="544" y="532.5" textLength="452" lengthAdjust="spacingAndGlyphs">ians and renders them directly into a final BEV semantic map.</text>

<text class="ar" x="1024" y="135.5">➢</text>
<text class="bul" x="1042" y="135.5" textLength="193" lengthAdjust="spacingAndGlyphs">You may be curious about</text>
<text class="bul" x="1042" y="155.7" textLength="208" lengthAdjust="spacingAndGlyphs">how to obtain the Gaussian：</text>
<text class="bul" x="1042" y="175.9" textLength="171" lengthAdjust="spacingAndGlyphs">(1) LSS Lift extracts 3D</text>
<text class="bul" x="1042" y="194.8" textLength="198" lengthAdjust="spacingAndGlyphs">Voxel Features. (2) Gauss-</text>
<text class="bul" x="1042" y="215" textLength="210" lengthAdjust="spacingAndGlyphs">ians initialized at centers. (3)</text>
<text class="bul" x="1042" y="235.2" textLength="176" lengthAdjust="spacingAndGlyphs">3D Conv Head decodes</text>
<text class="bul" x="1042" y="255.4" textLength="176" lengthAdjust="spacingAndGlyphs">features, only predicting</text>
<text class="bul" x="1042" y="275.5" textLength="208" lengthAdjust="spacingAndGlyphs">offsets to update Gaussians.</text>

<!-- ============ SELECTION FIGURE (zoom7 coords) ============ -->
<g transform="translate(1250.1,115.45) scale(0.1578,0.1157)">
 <text class="bi" transform="translate(55,75) scale(1,1.364)" font-size="40" textLength="375" lengthAdjust="spacingAndGlyphs">(a)Gaussian Selection</text>
 <text class="i" transform="translate(460,203) scale(1,1.364)" font-size="44" fill="#d01818" text-anchor="middle">Pos., Opc.</text>
 <rect x="595" y="140" width="157" height="192" rx="22" fill="#e8b0b0"/>
 <text class="r" transform="translate(673,253) scale(1,1.364)" font-size="42" text-anchor="middle" textLength="80" lengthAdjust="spacingAndGlyphs">REA</text>
 <rect x="25" y="335" width="538" height="418" fill="#fff" stroke="#000" stroke-width="0.8" class="nsc"/>
 <line x1="420" y1="335" x2="420" y2="753" stroke="#000" stroke-width="0.8" class="nsc"/>
 <ellipse cx="140" cy="618" rx="95" ry="45" fill="url(#gB)"/><ellipse cx="100" cy="555" rx="55" ry="45" fill="url(#gP)" transform="rotate(-30 100 555)"/><ellipse cx="123" cy="455" rx="25" ry="75" fill="url(#gO)"/><ellipse cx="165" cy="510" rx="28" ry="95" fill="url(#gP)" transform="rotate(30 165 510)"/><ellipse cx="290" cy="465" rx="90" ry="35" fill="url(#gB)" transform="rotate(12 290 465)"/><ellipse cx="238" cy="533" rx="50" ry="45" fill="url(#gG)"/><ellipse cx="305" cy="592" rx="62" ry="62" fill="url(#gO)"/>
 <g stroke="#888" stroke-width="0.5" class="nsc"><line x1="180" y1="560" x2="180" y2="360"/><line x1="180" y1="560" x2="380" y2="522"/><line x1="180" y1="560" x2="88" y2="680"/></g>
 <g class="i" font-size="42">
  <text transform="translate(440,405) scale(1,1.364)">Pos.</text><text transform="translate(440,480) scale(1,1.364)">Scale</text><text transform="translate(440,558) scale(1,1.364)">Rota.</text><text transform="translate(440,633) scale(1,1.364)">Opc.</text><text transform="translate(440,708) scale(1,1.364)">Sem.</text><text transform="translate(378,728) scale(1,1.364)">G</text>
 </g>
 <g fill="none" stroke="#000" stroke-width="0.8" class="nsc"><polyline points="293,335 293,237 588,237" marker-end="url(#a7h)"/><polyline points="293,753 293,860 588,860" marker-end="url(#a7h)"/><line x1="673" y1="332" x2="673" y2="498" marker-end="url(#a7v)"/><line x1="673" y1="755" x2="673" y2="582" marker-end="url(#a7v)"/><line x1="710" y1="540" x2="835" y2="540" marker-end="url(#a7h)"/><line x1="1088" y1="755" x2="1172" y2="755" marker-end="url(#a7h)"/><line x1="1315" y1="160" x2="1315" y2="245" marker-end="url(#a7v)"/><line x1="1323" y1="970" x2="1323" y2="1088" marker-end="url(#a7v)"/><line x1="1165" y1="1222" x2="1108" y2="1222" marker-end="url(#a7h)"/><line x1="855" y1="1225" x2="815" y2="1225" marker-end="url(#a7h)"/></g>
 <rect x="595" y="755" width="157" height="215" rx="22" fill="#d8c3e6"/>
 <text class="r" transform="translate(673,868) scale(1,1.364)" font-size="42" text-anchor="middle" textLength="78" lengthAdjust="spacingAndGlyphs">SUE</text>
 <text class="i" transform="translate(497,928) scale(1,1.364)" font-size="44" fill="#7a3ec8" text-anchor="middle">Sem.</text>
 <circle cx="673" cy="540" r="37" fill="#fff" stroke="#000" stroke-width="0.8" class="nsc"/>
 <g stroke="#000" stroke-width="0.8" class="nsc"><line x1="650" y1="540" x2="696" y2="540"/><line x1="673" y1="517" x2="673" y2="563"/></g>
 <text class="i" transform="translate(712,410) scale(1,1.364)" font-size="42" text-anchor="middle">S<tspan font-size="28" dy="10">p</tspan></text>
 <text class="i" transform="translate(712,690) scale(1,1.364)" font-size="42" text-anchor="middle">S<tspan font-size="28" dy="10">u</tspan></text>
 <ellipse cx="930" cy="232" rx="40" ry="80" fill="url(#gG)" transform="rotate(40 930 232)"/><ellipse cx="922" cy="400" rx="25" ry="72" fill="url(#gO)"/><ellipse cx="922" cy="677" rx="95" ry="45" fill="url(#gB)"/><ellipse cx="910" cy="880" rx="30" ry="95" fill="url(#gP)" transform="rotate(25 910 880)"/>
 <g fill="#000"><circle cx="920" cy="528" r="5"/><circle cx="920" cy="552" r="5"/><circle cx="920" cy="576" r="5"/></g>
 <g class="i" font-size="42"><text transform="translate(835,232) scale(1,1.364)">g<tspan font-size="26" dy="-14">n</tspan></text><text transform="translate(828,435) scale(1,1.364)">g<tspan font-size="26" dy="-14">3</tspan></text><text transform="translate(825,755) scale(1,1.364)">g<tspan font-size="26" dy="-14">2</tspan></text><text transform="translate(820,895) scale(1,1.364)">g<tspan font-size="26" dy="-14">1</tspan></text></g>
 <text class="i" transform="translate(1063,103) scale(1,1.364)" font-size="42" text-anchor="middle" textLength="145" lengthAdjust="spacingAndGlyphs">Priority</text>
 <rect x="1027" y="137" width="57" height="827" fill="url(#prio)"/>
 <g stroke="#aaa" stroke-width="0.4" class="nsc"><line x1="1027" y1="295" x2="1084" y2="295"/><line x1="1027" y1="467" x2="1084" y2="467"/></g>
 <g stroke="#000" stroke-width="0.8" class="nsc"><line x1="1027" y1="615" x2="1084" y2="615"/><line x1="1027" y1="800" x2="1084" y2="800"/></g>
 <g fill="#000"><circle cx="1048" cy="525" r="5"/><circle cx="1048" cy="550" r="5"/><circle cx="1048" cy="575" r="5"/></g>
 <text class="bi" transform="translate(1135,325) scale(1,1.364)" font-size="50" fill="#c01818" text-anchor="middle">τ</text>
 <line x1="1172" y1="347" x2="1092" y2="347" stroke="#c01818" stroke-width="1" class="nsc" marker-end="url(#a7r)"/>
 <text class="i" transform="translate(1320,125) scale(1,1.364)" font-size="44" text-anchor="middle" textLength="205" lengthAdjust="spacingAndGlyphs">BandWidth</text>
 <rect x="1178" y="252" width="272" height="193" rx="22" fill="#dce4f5"/>
 <text class="r" transform="translate(1315,298) scale(1,1.364)" font-size="42" text-anchor="middle" textLength="190" lengthAdjust="spacingAndGlyphs">Bandwidth-</text>
 <text class="r" transform="translate(1315,365) scale(1,1.364)" font-size="42" text-anchor="middle">Adaptive</text>
 <text class="r" transform="translate(1315,432) scale(1,1.364)" font-size="42" text-anchor="middle">Filtering</text>
 <g stroke="#888" stroke-width="0.6" class="nsc"><line x1="1270" y1="720" x2="1270" y2="520"/><line x1="1270" y1="720" x2="1475" y2="720"/><line x1="1270" y1="720" x2="1175" y2="875"/></g>
 <ellipse cx="1262" cy="700" rx="35" ry="95" fill="url(#gP)" transform="rotate(20 1262 700)"/><ellipse cx="1390" cy="655" rx="85" ry="35" fill="url(#gB)" transform="rotate(12 1390 655)"/><ellipse cx="1362" cy="760" rx="62" ry="65" fill="url(#gO)"/>
 <text class="i" transform="translate(1395,910) scale(1,1.364)" font-size="42">G<tspan font-size="26" dy="8">sel</tspan></text>
 <g stroke="#444" stroke-width="0.7" class="nsc"><line x1="5" y1="1000" x2="1515" y2="1000"/><line x1="5" y1="1008" x2="1515" y2="1008"/></g>
 <rect x="1167" y="1127" width="275" height="195" rx="25" fill="#bdeee5"/>
 <text class="r" transform="translate(1303,1208) scale(1,1.364)" font-size="42" text-anchor="middle" textLength="175" lengthAdjust="spacingAndGlyphs">CodeBook</text>
 <text class="r" transform="translate(1303,1275) scale(1,1.364)" font-size="42" text-anchor="middle" textLength="215" lengthAdjust="spacingAndGlyphs">Compression</text>
 <text class="r" transform="translate(978,1075) scale(1,1.364)" font-size="42" text-anchor="middle" textLength="215" lengthAdjust="spacingAndGlyphs">CodeBook <tspan font-weight="bold">D</tspan></text>
 <g stroke="#222" stroke-width="0.5" class="nsc">
  <rect x="865" y="1100" width="207" height="67" fill="#e0f1d9"/><rect x="865" y="1167" width="207" height="67" fill="#dde6f6"/><rect x="865" y="1234" width="207" height="68" fill="#fce6d2"/><rect x="865" y="1302" width="207" height="68" fill="#fcdde4"/>
  <line x1="917" y1="1100" x2="917" y2="1370"/><line x1="969" y1="1100" x2="969" y2="1370"/><line x1="1020" y1="1100" x2="1020" y2="1370"/>
 </g>
 <ellipse cx="735" cy="1112" rx="85" ry="35" fill="url(#gB)"/><ellipse cx="742" cy="1310" rx="35" ry="95" fill="url(#gP)" transform="rotate(25 742 1310)"/>
 <g fill="#000"><circle cx="730" cy="1198" r="5"/><circle cx="730" cy="1220" r="5"/><circle cx="730" cy="1242" r="5"/></g>
 <text class="i" transform="translate(758,1180) scale(1,1.364)" font-size="38">g<tspan font-size="24" dy="8">sel</tspan></text>
 <text class="i" transform="translate(765,1370) scale(1,1.364)" font-size="38">g<tspan font-size="24" dy="8">sel</tspan></text>
 <text class="i" transform="translate(585,1138) scale(1,1.364)" font-size="36" text-anchor="middle">Sem. c<tspan font-size="22" dy="8">sel</tspan></text>
 <text class="i" transform="translate(585,1285) scale(1,1.364)" font-size="36" text-anchor="middle">Sem. c<tspan font-size="22" dy="8">sel</tspan></text>
 <g stroke="#222" stroke-width="0.5" class="nsc">
  <rect x="475" y="1165" width="192" height="70" fill="#4a72c8"/><line x1="523" y1="1165" x2="523" y2="1235"/><line x1="571" y1="1165" x2="571" y2="1235"/><line x1="619" y1="1165" x2="619" y2="1235"/>
  <rect x="475" y="1302" width="192" height="68" fill="#e88a98"/><line x1="523" y1="1302" x2="523" y2="1370"/><line x1="571" y1="1302" x2="571" y2="1370"/><line x1="619" y1="1302" x2="619" y2="1370"/>
 </g>
 <g stroke="#000" stroke-width="0.8" stroke-dasharray="2 1.5" class="nsc"><line x1="470" y1="1200" x2="398" y2="1200" marker-end="url(#a7h)"/><line x1="470" y1="1335" x2="398" y2="1335" marker-end="url(#a7h)"/></g>
 <g stroke="#1f4e8a" stroke-width="0.5" class="nsc">
  <rect x="155" y="1100" width="203" height="67" fill="#fff"/><rect x="155" y="1167" width="203" height="67" fill="#d9e2f3"/><rect x="155" y="1234" width="203" height="68" fill="#fff"/><rect x="155" y="1302" width="203" height="68" fill="#f9d8e0"/>
  <line x1="206" y1="1100" x2="206" y2="1370"/><line x1="256" y1="1100" x2="256" y2="1370"/><line x1="307" y1="1100" x2="307" y2="1370"/>
 </g>
 <g class="s b" font-size="46" fill="#2a6fb5" text-anchor="middle"><text transform="translate(130,1152) scale(1,1.364)">0</text><text transform="translate(130,1218) scale(1,1.364)">1</text><text transform="translate(130,1285) scale(1,1.364)">2</text><text transform="translate(130,1352) scale(1,1.364)">3</text></g>
 <rect x="22" y="1100" width="65" height="285" fill="#fff" stroke="#000" stroke-width="0.6" class="nsc"/>
 <g stroke="#000" stroke-width="0.5" fill="none" class="nsc"><rect x="22" y="1100" width="65" height="58"/><polyline points="22,1100 54,1140 87,1100"/></g>
 <g class="s" font-size="34" text-anchor="middle"><text transform="translate(57,1218) scale(1,1.364)">1,</text><text transform="translate(57,1285) scale(1,1.364)">...</text><text transform="translate(52,1350) scale(1,1.364)">3</text></g>
 <text class="bi" transform="translate(777,1505) scale(1,1.364)" font-size="40" text-anchor="middle" textLength="440" lengthAdjust="spacingAndGlyphs">(b)Gaussian Compression</text>
</g>

<!-- ============ SUMMARY TEXT ============ -->
<text class="ar" x="1029" y="355">➢</text>
<text class="bul" x="1047" y="355" textLength="425" lengthAdjust="spacingAndGlyphs">GSCOOP is a novel communication-efficient collaborative</text>
<text class="bul" x="1047" y="375.2" textLength="427" lengthAdjust="spacingAndGlyphs">semantic segmentation framework that share a sparse yet</text>
<text class="bul" x="1047" y="394.6" textLength="279" lengthAdjust="spacingAndGlyphs">accurate 3D Gaussian representation.</text>
<text class="ar" x="1029" y="414.3">➢</text>
<text class="bul" x="1047" y="414.3" textLength="419" lengthAdjust="spacingAndGlyphs">Although GSCOOP achieves SOTA performance on OP-</text>
<text class="bul" x="1047" y="434" textLength="439" lengthAdjust="spacingAndGlyphs">V2V and V2X-Seq, future work needs to optimize the Gaus-</text>
<text class="bul" x="1047" y="453.7" textLength="420" lengthAdjust="spacingAndGlyphs">sian representation for improved efficiency and accuracy.</text>
<text class="ar" x="1029" y="473.4" style="fill:#1f63b8">➢</text>
<text class="bul" x="1047" y="473.4" textLength="378" lengthAdjust="spacingAndGlyphs"><tspan fill="#1f63b8">Future Work</tspan>: We are exploring the possibility of not</text>
<text class="bul" x="1047" y="493.1" textLength="424" lengthAdjust="spacingAndGlyphs">requiring occ GT supervision, allowing expansion to multi-</text>
<text class="bul" x="1047" y="514" textLength="407" lengthAdjust="spacingAndGlyphs">modal input and supervised 2D semantic or depth map,</text>
<text class="bul" x="1047" y="533.7" textLength="316" lengthAdjust="spacingAndGlyphs">which is why we base our purpose on LSS.</text>

<!-- ============ TABLE ============ -->
<text class="s" x="45.6" y="561.2" font-size="12" textLength="597" lengthAdjust="spacingAndGlyphs">Tab. Performance comparison on the task of BeV Semantic Segmentation on OPV2V and V2X-Seq datasets</text>
<rect x="42.3" y="566.8" width="627.7" height="2" fill="#000"/>
<g class="r" font-size="13.5" text-anchor="middle" fill="#111">
 <text x="101" y="595.5">Model</text>
 <text x="287.5" y="588" font-weight="bold" font-size="14">OPV2V IOU(%)</text>
 <text x="543.3" y="588" font-weight="bold" font-size="14">V2X-Seq IOU(%)</text>
 <text x="196.2" y="616.5">Vehicle</text><text x="262.3" y="616.5">Road</text><text x="323.3" y="616.5">Lane</text><text x="384.3" y="616.5">Avg</text>
 <text x="450.8" y="616.5">Vehicle</text><text x="516.8" y="616.5">Road</text><text x="578.7" y="616.5">Lane</text><text x="640" y="616.5">Avg</text>
</g>
<rect x="174" y="596.5" width="228.4" height="1" fill="#000"/>
<rect x="428.5" y="596.5" width="229.2" height="1" fill="#000"/>
<rect x="42.3" y="620.4" width="627.7" height="1.4" fill="#000"/>
<rect x="42.3" y="716.5" width="627.7" height="1.4" fill="#000"/>
<rect x="42.3" y="738" width="627.7" height="2" fill="#000"/>
<g class="r" font-size="13.5" text-anchor="middle" fill="#111">
 <g transform="translate(0,633)"><text x="101">No Fusion</text><text x="196.2">26.50</text><text x="262.3">40.30</text><text x="323.3">27.69</text><text x="384.3">31.50</text><text x="450.8">28.12</text><text x="516.8">66.34</text><text x="578.7">23.77</text><text x="640">39.41</text></g>
 <g transform="translate(0,648.8)"><text x="101">F-Cooper[<tspan fill="#2a6fc0">3</tspan>]</text><text x="196.2">44.35</text><text x="262.3">49.99</text><text x="323.3">32.45</text><text x="384.3">42.26</text><text x="450.8">42.56</text><text x="516.8">79.88</text><text x="578.7">34.63</text><text x="640">52.36</text></g>
 <g transform="translate(0,664.6)"><text x="101">AttFuse[<tspan fill="#2a6fc0">37</tspan>]</text><text x="196.2">32.94</text><text x="262.3">45.23</text><text x="323.3">30.82</text><text x="384.3">36.33</text><text x="450.8">43.23</text><text x="516.8">79.68</text><text x="578.7">35.40</text><text x="640">52.77</text></g>
 <g transform="translate(0,680.3)"><text x="101">CoBEVT[<tspan fill="#2a6fc0">38</tspan>]</text><text x="196.2">52.95</text><text x="262.3">55.12</text><text x="323.3">41.62</text><text x="384.3">49.90</text><text x="450.8">45.24</text><text x="516.8">81.89</text><text x="578.7">40.14</text><text x="640">55.76</text></g>
 <g transform="translate(0,696.2)"><text x="101">DI-V2X[<tspan fill="#2a6fc0">16</tspan>]</text><text x="196.2">48.67</text><text x="262.3">53.42</text><text x="323.3">38.83</text><text x="384.3">46.97</text><text x="450.8">44.46</text><text x="516.8">81.83</text><text x="578.7">37.82</text><text x="640">54.70</text></g>
 <g transform="translate(0,712.1)"><text x="101">ERMVP[<tspan fill="#2a6fc0">46</tspan>]</text><text x="196.2">48.33</text><text x="262.3">56.78</text><text x="323.3">41.80</text><text x="384.3">48.97</text><text x="450.8">43.28</text><text x="516.8">83.76</text><text x="578.7">42.40</text><text x="640">56.48</text></g>
 <g transform="translate(0,729.2)"><text x="101">GSCOOP(Ours)</text><g font-weight="bold"><text x="196.2">57.21</text><text x="262.3">64.67</text><text x="323.3">46.71</text><text x="384.3">56.20</text><text x="450.8">47.61</text><text x="516.8">88.41</text><text x="578.7">45.44</text><text x="640">60.49</text></g></g>
</g>
<line x1="40.6" y1="749.9" x2="672" y2="749.9" stroke="#5a85c4" stroke-width="0.9"/>
<line x1="672.5" y1="543" x2="672.5" y2="752" stroke="#5a85c4" stroke-width="0.6" stroke-dasharray="4 2"/>
<line x1="863.7" y1="543" x2="863.7" y2="752" stroke="#5a85c4" stroke-width="0.6" stroke-dasharray="4 2"/>
<line x1="672.5" y1="649.5" x2="863.7" y2="649.5" stroke="#5a85c4" stroke-width="0.9" stroke-dasharray="4 2"/>

<!-- ============ BAR CHART ============ -->
<g>
 <rect x="690" y="554.7" width="166" height="63.5" fill="none" stroke="#444" stroke-width="0.4"/>
 <g stroke="#ddd" stroke-width="0.3"><line x1="690" y1="572" x2="856" y2="572"/><line x1="690" y1="590" x2="856" y2="590"/><line x1="690" y1="608.8" x2="856" y2="608.8"/></g>
 <g class="s" font-size="4.5" fill="#333" text-anchor="end"><text x="688" y="573.5">60</text><text x="688" y="591.5">50</text><text x="688" y="610.3">40</text></g>
 <text class="s" font-size="4.5" fill="#333" transform="translate(681,588) rotate(-90)" text-anchor="middle">IoU (%)</text>
 <g fill="#f5a54a" stroke="#d9822a" stroke-width="0.2">
  <rect x="698" y="576.3" width="4" height="41.9"/><rect x="727.6" y="580.5" width="4" height="37.7"/><rect x="754" y="587.4" width="4" height="30.8"/><rect x="781" y="593" width="4" height="25.2"/><rect x="807.5" y="596" width="4" height="22.2"/><rect x="834" y="602.2" width="4" height="16"/>
 </g>
 <g fill="#f3c6da" stroke="#c8648a" stroke-width="0.2">
  <rect x="702" y="562.8" width="4" height="55.4"/><rect x="731.6" y="564.5" width="4" height="53.7"/><rect x="758" y="565.7" width="4" height="52.5"/><rect x="785" y="566.5" width="4" height="51.7"/><rect x="811.5" y="567" width="4" height="51.2"/><rect x="838" y="569" width="4" height="49.2"/>
 </g>
 <g fill="#c4def3" stroke="#8bb8e0" stroke-width="0.2">
  <rect x="706" y="596.8" width="4" height="21.4"/><rect x="735.6" y="597.8" width="4" height="20.4"/><rect x="762" y="602.2" width="4" height="16"/><rect x="789" y="604.6" width="4" height="13.6"/><rect x="815.5" y="607.1" width="4" height="11.1"/><rect x="842" y="609.6" width="4" height="8.6"/>
 </g>
 <polyline points="704,562.8 733.6,564.5 760,565.7 787,566.5 813.5,567 840,569" fill="none" stroke="#c8648a" stroke-width="0.6"/>
 <polyline points="700,576.3 729.6,580.5 756,587.4 783,593 809.5,596 836,602.2" fill="none" stroke="#e08a2a" stroke-width="0.6"/>
 <polyline points="708,596.8 737.6,597.8 764,602.2 791,604.6 817.5,607.1 844,609.6" fill="none" stroke="#5b9bd5" stroke-width="0.6"/>
 <g class="s" font-size="4.5" fill="#333" text-anchor="middle"><text x="703" y="625">0 ms</text><text x="732.6" y="625">100 ms</text><text x="759" y="625">200 ms</text><text x="786" y="625">300 ms</text><text x="812.5" y="625">400 ms</text><text x="839" y="625">500 ms</text></g>
 <g class="s" font-size="3.5" fill="#333"><rect x="784" y="556.5" width="4" height="3" fill="#f5a54a"/><text x="789" y="559.3">Vehicle</text><rect x="808" y="556.5" width="4" height="3" fill="#f3c6da"/><text x="813" y="559.3">Road</text><rect x="830" y="556.5" width="4" height="3" fill="#c4def3"/><text x="835" y="559.3">Lane</text></g>
 <text class="s" x="771" y="639.3" font-size="9" text-anchor="middle" textLength="149" lengthAdjust="spacingAndGlyphs">Fig. Time delay robustness analysis</text>
</g>

<!-- ============ ABLATION TABLE ============ -->
<g>
 <rect x="678" y="660.8" width="180" height="1" fill="#000"/>
 <rect x="678" y="672" width="180" height="0.6" fill="#000"/>
 <rect x="678" y="715" width="180" height="1" fill="#000"/>
 <line x1="747" y1="672" x2="747" y2="715" stroke="#000" stroke-width="0.3"/>
 <g class="r" font-size="6" text-anchor="middle" font-weight="bold"><text x="690" y="670.5">RPA</text><text x="712" y="670.5">SUE</text><text x="736.5" y="670.5">SGC</text><text x="786" y="670.5">Veh./Road/Lane↑</text><text x="841" y="670.5">Vol.(KB)↓</text></g>
 <g class="i" font-size="6" text-anchor="middle">
  <text x="690" y="681.3">✓</text><text x="786" y="681.3">56.84/64.56/46.32</text><text x="841" y="681.3">34.18</text>
  <text x="712" y="691.2">✓</text><text x="786" y="691.2">55.20/63.57/45.54</text><text x="841" y="691.2">34.18</text>
  <text x="690" y="701">✓</text><text x="712" y="701">✓</text><text x="786" y="701">57.39/64.99/47.10</text><text x="841" y="701">34.18</text>
  <text x="690" y="711.3">✓</text><text x="712" y="711.3">✓</text><text x="736.5" y="711.3">✓</text><text x="786" y="711.3" font-weight="bold">57.21/64.77/46.71</text><text x="841" y="711.3" font-weight="bold">15.87</text>
 </g>
 <text class="s" x="771" y="733.5" font-size="9" text-anchor="middle" textLength="131" lengthAdjust="spacingAndGlyphs">Tab. Component Ablation study</text>
</g>

<!-- ============ LINE CHARTS ============ -->
<g>
 <polyline points="884.5,546.8 884.5,626.8 1010.6,626.8" fill="none" stroke="#333" stroke-width="0.4"/>
 <text class="s" x="887" y="554" font-size="9">OPV2V</text>
 <g class="r" font-size="5" text-anchor="end" fill="#333"><text x="882" y="550">58</text><text x="882" y="563.3">54</text><text x="882" y="575">50</text><text x="882" y="590">46</text><text x="882" y="604">42</text><text x="882" y="618.5">38</text></g>
 <g class="r" font-size="5.5" text-anchor="middle" fill="#333"><text x="899" y="633.5">11</text><text x="921" y="633.5">13</text><text x="943" y="633.5">15</text><text x="964" y="633.5">17</text><text x="986" y="633.5">19</text><text x="1006.7" y="633.5">21</text></g>
 <text class="r b" x="946.6" y="642" font-size="6" text-anchor="middle">Communication Volume(log2)</text>
 <text class="r b" font-size="6" transform="translate(870,588) rotate(-90)" text-anchor="middle">Average IOU(%)</text>
 <polyline points="890,581.3 903,568 922,559.1 961,554.2" fill="none" stroke="#c0213a" stroke-width="0.9"/>
 <g fill="#c0213a"><circle cx="922" cy="559.1" r="1"/><circle cx="961" cy="554.2" r="1"/></g>
 <text class="r" x="965" y="555.5" font-size="4.5" fill="#c0213a">GSCOOP</text>
 <polyline points="920,615.7 934.7,602.2 953.5,588.6 1005.7,575.1" fill="none" stroke="#4a90d9" stroke-width="0.9"/>
 <line x1="1005.7" y1="573.9" x2="904" y2="573.9" stroke="#c0213a" stroke-width="0.5" stroke-dasharray="2 1" marker-end="url(#ahr)"/>
 <line x1="901" y1="573.9" x2="901" y2="626" stroke="#c0213a" stroke-width="0.4" stroke-dasharray="1.5 1"/>
 <text class="i" x="946.5" y="571" font-size="4.5" fill="#c0213a" text-anchor="middle">~512× lower</text>
 <text class="i" x="946.5" y="581.5" font-size="4.2" text-anchor="middle">communication volume</text>
 <text class="r" x="997" y="571.5" font-size="4.5" fill="#4a90d9">CoBEVT</text>
 <circle cx="996" cy="585.7" r="1" fill="#e8b020"/><text class="r" x="998" y="587" font-size="4.5" fill="#e8b020">DI-V2X</text>
 <circle cx="996" cy="601.7" r="1" fill="#7ac230"/><text class="r" x="998" y="603" font-size="4.5" fill="#7ac230">FCooper</text>
 <circle cx="994" cy="622" r="1" fill="#7a3ec8"/><text class="r" x="996" y="623.5" font-size="4.5" fill="#7a3ec8">AttFuse</text>

 <polyline points="884.5,649 884.5,731.5 1010.6,731.5" fill="none" stroke="#333" stroke-width="0.4"/>
 <text class="s" x="890" y="656" font-size="9">V2X-Seq</text>
 <g class="r" font-size="5" text-anchor="end" fill="#333"><text x="882" y="653">62</text><text x="882" y="664.5">58</text><text x="882" y="676.9">54</text><text x="882" y="688">50</text><text x="882" y="701">46</text><text x="882" y="712.6">42</text><text x="882" y="724">38</text></g>
 <g class="r" font-size="5.5" text-anchor="middle" fill="#333"><text x="899" y="737.5">11</text><text x="921" y="737.5">13</text><text x="943" y="737.5">15</text><text x="964" y="737.5">17</text><text x="986" y="737.5">19</text><text x="1006.7" y="737.5">21</text></g>
 <text class="r b" x="946.6" y="746" font-size="6" text-anchor="middle">Communication Volume(log2)</text>
 <text class="r b" font-size="6" transform="translate(870,690) rotate(-90)" text-anchor="middle">Average IOU(%)</text>
 <polyline points="889,673.6 910,665 927,657.6 961,655.2" fill="none" stroke="#c0213a" stroke-width="0.9"/>
 <g fill="#c0213a"><circle cx="927" cy="657.6" r="1"/><circle cx="961" cy="655.2" r="1"/></g>
 <text class="r" x="965" y="656.5" font-size="4.5" fill="#c0213a">GSCOOP</text>
 <polyline points="920,724 931.8,695.8 951.5,684.7 1003.7,668.7" fill="none" stroke="#4a90d9" stroke-width="0.9"/>
 <line x1="918" y1="724" x2="918" y2="670" stroke="#c0213a" stroke-width="0.4" stroke-dasharray="1.5 1" marker-end="url(#ahr)"/>
 <text class="r b" x="931.8" y="683" font-size="4.5" fill="#c0213a" text-anchor="middle">19.62%↑</text>
 <text class="r" x="1000" y="666" font-size="4.5" fill="#4a90d9">CoBEVT</text>
 <text class="r" x="970" y="668" font-size="4.5" fill="#e8b020">DI-V2X</text>
 <circle cx="996" cy="677.8" r="1" fill="#7a3ec8"/><text class="r" x="998" y="679" font-size="4.5" fill="#7a3ec8">AttFuse</text>
 <circle cx="974" cy="686" r="1" fill="#7ac230"/><text class="r" x="976" y="687.5" font-size="4.5" fill="#e8b020">FCooper</text>
</g>

<!-- ============ RESULT IMAGES ============ -->
<g transform="translate(1035.7,547.5) scale(0.2945,0.1052)">
 <rect x="-36" y="25" width="309" height="623" fill="url(#sky2)"/>
 <rect x="-36" y="250" width="309" height="130" fill="#4d5f48" opacity="0.6"/>
 <ellipse cx="40" cy="430" rx="35" ry="30" fill="#6a6d75"/><ellipse cx="200" cy="420" rx="35" ry="45" fill="#eee"/>
 <ellipse cx="120" cy="600" rx="150" ry="80" fill="#1e2228"/>
 <rect x="-36" y="690" width="311" height="625" fill="url(#sky2)"/>
 <rect x="170" y="690" width="100" height="350" fill="#556050" opacity="0.7"/><rect x="-36" y="1040" width="120" height="200" fill="#8a3a3a" opacity="0.8"/>
 <ellipse cx="120" cy="1260" rx="150" ry="80" fill="#1e2228"/>
 <use href="#seg1" transform="translate(283,25)"/><use href="#seg1" transform="translate(603,25)"/><use href="#seg1" transform="translate(922,25)"/><use href="#seg1" transform="translate(1241,25)"/>
 <use href="#seg2" transform="translate(283,690)"/><use href="#seg2" transform="translate(603,690)"/><use href="#seg2" transform="translate(922,690)"/><use href="#seg2" transform="translate(1241,690)"/>
</g>
<g class="r" font-size="8.5" text-anchor="middle" fill="#111">
 <text x="1070" y="705">Input Image</text><text x="1165.5" y="705">DI-V2X</text><text x="1259" y="705">CoBEVT</text><text x="1353" y="705">GSCOOP (Ours)</text><text x="1446.5" y="705">Ground Truth</text>
</g>
</svg>
</body></html>
